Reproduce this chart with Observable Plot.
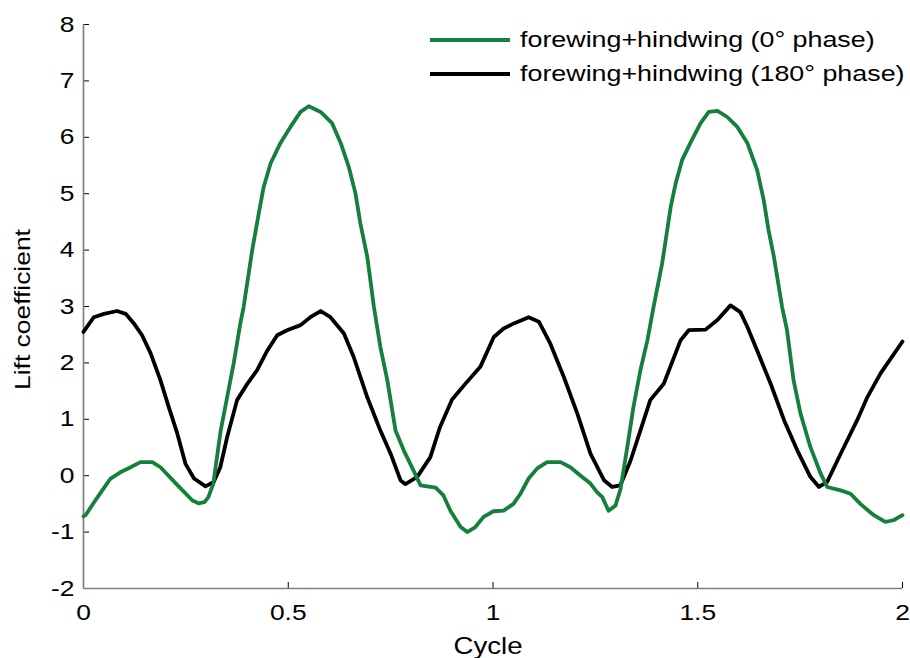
<!DOCTYPE html>
<html>
<head>
<meta charset="utf-8">
<script src="https://cdn.jsdelivr.net/npm/d3@7"></script>
<script src="https://cdn.jsdelivr.net/npm/@observablehq/plot@0.6"></script>
<style>
  body { margin: 0; background: #fff; }
  #wrap { position: relative; width: 910px; height: 658px; font-family: "Liberation Sans", Arial, sans-serif; }
  .leg { position: absolute; left: 430px; height: 26px; display: flex; align-items: center; font-size: 22px; color: #000; white-space: nowrap; }
  .leg svg { margin-right: 10px; flex: none; }
  .leg span { display: inline-block; transform: scaleX(1.22); transform-origin: left center; }
</style>
</head>
<body>
<div id="wrap"></div>
<script>
const seriesNames = ["forewing+hindwing (0° phase)", "forewing+hindwing (180° phase)"];
const seriesColors = ["#14803c", "#000000"];
const xTicks = [0, 0.5, 1, 1.5, 2];
const yTicks = [-2, -1, 0, 1, 2, 3, 4, 5, 6, 7, 8];

const cycleGreen = [0, 0.005, 0.025, 0.042, 0.066, 0.09, 0.115, 0.139, 0.168, 0.188, 0.227, 0.266, 0.281, 0.295, 0.305, 0.317, 0.335, 0.351, 0.367, 0.383, 0.391, 0.412, 0.428, 0.44, 0.457, 0.481, 0.505, 0.53, 0.55, 0.579, 0.607, 0.628, 0.648, 0.664, 0.676, 0.693, 0.709, 0.725, 0.742, 0.762, 0.782, 0.806, 0.823, 0.86, 0.879, 0.896, 0.921, 0.937, 0.957, 0.977, 1.001, 1.026, 1.05, 1.067, 1.087, 1.108, 1.132, 1.165, 1.189, 1.214, 1.238, 1.254, 1.267, 1.282, 1.299, 1.311, 1.328, 1.343, 1.36, 1.377, 1.392, 1.413, 1.434, 1.446, 1.462, 1.482, 1.507, 1.527, 1.548, 1.572, 1.596, 1.621, 1.645, 1.661, 1.673, 1.686, 1.706, 1.718, 1.734, 1.751, 1.775, 1.8, 1.816, 1.849, 1.873, 1.897, 1.93, 1.958, 1.978, 2.0];
const liftGreen = [-0.72, -0.70, -0.48, -0.30, -0.05, 0.06, 0.15, 0.24, 0.24, 0.15, -0.15, -0.44, -0.49, -0.47, -0.38, -0.14, 0.8, 1.4, 2.0, 2.7, 2.99, 4.0, 4.65, 5.12, 5.54, 5.9, 6.18, 6.45, 6.55, 6.45, 6.25, 5.9, 5.47, 5.01, 4.48, 3.88, 3.0, 2.28, 1.69, 0.8, 0.45, 0.09, -0.17, -0.21, -0.35, -0.62, -0.91, -1.0, -0.91, -0.73, -0.63, -0.62, -0.5, -0.32, -0.05, 0.13, 0.24, 0.24, 0.15, 0.0, -0.14, -0.29, -0.38, -0.62, -0.53, -0.25, 0.51, 1.22, 1.87, 2.4, 2.99, 3.76, 4.77, 5.18, 5.6, 5.9, 6.25, 6.45, 6.47, 6.36, 6.19, 5.9, 5.42, 4.89, 4.35, 3.88, 2.99, 2.58, 1.69, 1.1, 0.51, 0.04, -0.2, -0.26, -0.32, -0.5, -0.7, -0.82, -0.79, -0.7];

const cycleBlack = [0, 0.025, 0.05, 0.082, 0.103, 0.123, 0.143, 0.164, 0.188, 0.208, 0.229, 0.249, 0.27, 0.298, 0.318, 0.334, 0.351, 0.375, 0.4, 0.424, 0.449, 0.473, 0.497, 0.53, 0.554, 0.579, 0.603, 0.636, 0.66, 0.693, 0.725, 0.75, 0.774, 0.786, 0.815, 0.847, 0.87, 0.9, 0.935, 0.969, 1.002, 1.026, 1.051, 1.087, 1.112, 1.14, 1.173, 1.206, 1.238, 1.271, 1.291, 1.311, 1.336, 1.368, 1.384, 1.417, 1.458, 1.478, 1.519, 1.548, 1.58, 1.604, 1.621, 1.645, 1.678, 1.711, 1.743, 1.775, 1.796, 1.816, 1.849, 1.889, 1.914, 1.946, 2.0];
const liftBlack = [2.55, 2.81, 2.87, 2.92, 2.87, 2.7, 2.49, 2.17, 1.69, 1.22, 0.75, 0.21, -0.05, -0.19, -0.11, 0.15, 0.69, 1.34, 1.63, 1.87, 2.22, 2.49, 2.58, 2.67, 2.81, 2.92, 2.81, 2.52, 2.1, 1.39, 0.8, 0.39, -0.08, -0.15, -0.02, 0.33, 0.85, 1.35, 1.65, 1.93, 2.46, 2.61, 2.7, 2.81, 2.73, 2.34, 1.75, 1.1, 0.39, -0.08, -0.2, -0.17, 0.27, 0.98, 1.34, 1.63, 2.4, 2.58, 2.59, 2.76, 3.02, 2.9, 2.64, 2.22, 1.63, 0.98, 0.45, -0.02, -0.2, -0.11, 0.39, 0.98, 1.39, 1.81, 2.38];

const W = 910, H = 658, mL = 83, mR = 8, mT = 24, mB = 70;
const innerW = W - mL - mR, innerH = H - mT - mB;
const greenData = cycleGreen.map((c, i) => ({cycle: c, lift: liftGreen[i]}));
const blackData = cycleBlack.map((c, i) => ({cycle: c, lift: liftBlack[i]}));
const axisColor = "#808080";
const textStretch = 1.2;

const chart = Plot.plot({
  width: W, height: H,
  marginLeft: mL, marginRight: mR, marginTop: mT, marginBottom: mB,
  x: {domain: [0, 2]},
  y: {domain: [-2, 8]},
  style: {fontFamily: "'Liberation Sans', Arial, sans-serif", fontSize: "22px", color: "#000", background: "#fff"},
  marks: [
    Plot.axisX(xTicks, {tickSize: 0, tickPadding: 16, tickFormat: d => String(d), fontSize: 22, label: null}),
    Plot.axisY(yTicks, {tickSize: 0, tickPadding: 9, tickFormat: d => String(d), fontSize: 22, label: null}),
    Plot.tickX(xTicks, {x: d => d, insetTop: innerH - 6, stroke: "#000", strokeWidth: 1}),
    Plot.tickY(yTicks, {y: d => d, insetRight: innerW - 6, stroke: "#000", strokeWidth: 1}),
    Plot.ruleX([0], {stroke: axisColor, strokeWidth: 1.7}),
    Plot.ruleY([-2], {stroke: axisColor, strokeWidth: 1.7}),
    Plot.line(blackData, {x: "cycle", y: "lift", stroke: seriesColors[1], strokeWidth: 3.8, strokeLinejoin: "round"}),
    Plot.line(greenData, {x: "cycle", y: "lift", stroke: seriesColors[0], strokeWidth: 3.8, strokeLinejoin: "round"}),
    Plot.text(["Lift coefficient"], {frameAnchor: "left", textAnchor: "middle", lineAnchor: "middle", rotate: -90, dx: -61, dy: 3, fontSize: 22, fill: "#000"}),
    Plot.text(["Cycle"], {frameAnchor: "bottom", textAnchor: "middle", lineAnchor: "middle", dx: -5, dy: 58, fontSize: 23, fill: "#000"})
  ]
});

// widen glyphs horizontally (along text direction) to match the reference's wide type
const isNum = v => v != null && /^-?[\d.]+(e-?\d+)?$/.test(v.trim());
chart.querySelectorAll("text").forEach(t => {
  const xa = t.getAttribute("x");
  const x = isNum(xa) ? +xa : 0;
  const tr = t.getAttribute("transform") || "";
  t.setAttribute("transform", `${tr} translate(${x},0) scale(${textStretch},1) translate(${-x},0)`.trim());
});

const wrap = document.getElementById("wrap");
wrap.appendChild(chart);
const legTops = [27, 61];
seriesNames.forEach((name, i) => {
  const row = document.createElement("div");
  row.className = "leg";
  row.style.top = legTops[i] + "px";
  row.innerHTML = `<svg width="80" height="6"><line x1="0" x2="80" y1="3" y2="3" stroke="${seriesColors[i]}" stroke-width="3.8"/></svg><span>${name}</span>`;
  wrap.appendChild(row);
});
</script>
</body>
</html>
